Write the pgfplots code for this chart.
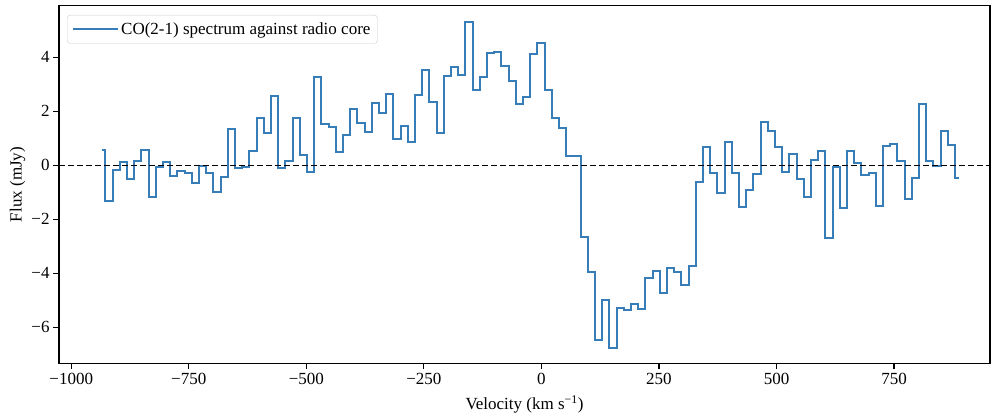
\documentclass[border=0pt]{standalone}
\usepackage{fontspec}
\setmainfont{Liberation Serif}
\usepackage{pgfplots}
\usepackage{pgfplotstable}
\pgfplotsset{compat=1.18}
\definecolor{specblue}{HTML}{377EB8}
\newcommand\fs{\fontsize{17}{20}\selectfont}

% CO(2-1) spectrum, channel centres (km/s) and flux (mJy)
\pgfplotstableread{
v flux
-934.9 0.55
-919.6 -1.31
-904.3 -0.17
-889.0 0.13
-873.7 -0.52
-858.4 0.17
-843.0 0.57
-827.7 -1.16
-812.4 -0.05
-797.1 0.13
-781.8 -0.38
-766.5 -0.21
-751.2 -0.30
-735.9 -0.67
-720.6 -0.01
-705.3 -0.30
-690.0 -0.98
-674.6 -0.44
-659.3 1.33
-644.0 -0.11
-628.7 -0.05
-613.4 0.53
-598.1 1.76
-582.8 1.21
-567.5 2.58
-552.2 -0.11
-536.9 0.16
-521.5 1.76
-506.2 0.38
-490.9 -0.26
-475.6 3.28
-460.3 1.52
-445.0 1.43
-429.7 0.50
-414.4 1.13
-399.1 2.09
-383.8 1.56
-368.4 1.22
-353.1 2.30
-337.8 1.95
-322.5 2.64
-307.2 0.96
-291.9 1.47
-276.6 0.88
-261.3 2.60
-246.0 3.53
-230.7 2.36
-215.3 1.19
-200.0 3.31
-184.7 3.65
-169.4 3.33
-154.1 5.30
-138.8 2.78
-123.5 3.26
-108.2 4.15
-92.9 4.21
-77.6 3.67
-62.2 3.13
-46.9 2.27
-31.6 2.54
-16.3 4.11
-1.0 4.52
14.3 2.78
29.6 1.76
44.9 1.39
60.2 0.36
75.6 0.36
90.9 -2.67
106.2 -3.96
121.5 -6.47
136.8 -4.99
152.1 -6.76
167.4 -5.30
182.7 -5.36
198.0 -5.14
213.3 -5.32
228.7 -4.19
244.0 -3.90
259.3 -4.72
274.6 -3.82
289.9 -3.94
305.2 -4.43
320.5 -3.73
335.8 -0.63
351.1 0.67
366.4 -0.30
381.8 -1.04
397.1 0.88
412.4 -0.30
427.7 -1.53
443.0 -0.91
458.3 -0.32
473.6 1.62
488.9 1.28
504.2 0.69
519.5 -0.26
534.9 0.41
550.2 -0.51
565.5 -1.16
580.8 0.20
596.1 0.54
611.4 -2.68
626.7 -0.05
642.0 -1.57
657.3 0.53
672.6 0.07
688.0 -0.36
703.3 -0.30
718.6 -1.50
733.9 0.73
749.2 0.78
764.5 0.17
779.8 -1.25
795.1 -0.48
810.4 2.27
825.7 0.17
841.1 -0.03
856.4 1.27
871.7 0.75
887.0 -0.48
}\spectrum

\begin{document}
\begin{tikzpicture}
\useasboundingbox (-59pt,-51.7pt) rectangle (932pt,363.3pt);
\begin{axis}[
    scale only axis,
    width=931pt,
    height=357.6pt,
    xmin=-1026, xmax=954,
    ymin=-7.33, ymax=5.91,
    xtick={-1000,-750,-500,-250,0,250,500,750},
    xticklabels={−1000,−750,−500,−250,0,250,500,750},
    ytick={-6,-4,-2,0,2,4},
    yticklabels={−6,−4,−2,0,2,4},
    xtick pos=lower,
    ytick pos=left,
    tick align=outside,
    major tick length=5.9pt,
    tick style={line width=1.2pt, black},
    axis line style={line width=1.3pt},
    tick label style={font=\fs},
    label style={font=\fs},
    xlabel={Velocity (km s\textsuperscript{−1})},
    ylabel={Flux (mJy)},
    xlabel style={at={(axis description cs:0.5,-0.129)}, anchor=base},
    ylabel style={at={(axis description cs:-0.0446,0.5)}, anchor=center},
    legend cell align=left,
    legend style={at={(axis description cs:0.0086,0.974)}, anchor=north west,
        draw=black!20, rounded corners=3pt, fill=white,
        inner xsep=5pt, inner ysep=5.5pt, font=\fs},
    legend image code/.code={%
        \draw[#1] (0pt,0pt) -- (34pt,0pt);
        \path (0pt,0pt) -- (45pt,0pt);},
]
\addplot[specblue, line width=2pt, const plot mark mid] table[x=v, y=flux] {\spectrum};
\addlegendentry{CO(2-1) spectrum against radio core}
\addplot[black, line width=1.4pt, dash pattern=on 6.3pt off 2.7pt, forget plot]
    coordinates {(-1026,0) (954,0)};
\end{axis}
\end{tikzpicture}
\end{document}
